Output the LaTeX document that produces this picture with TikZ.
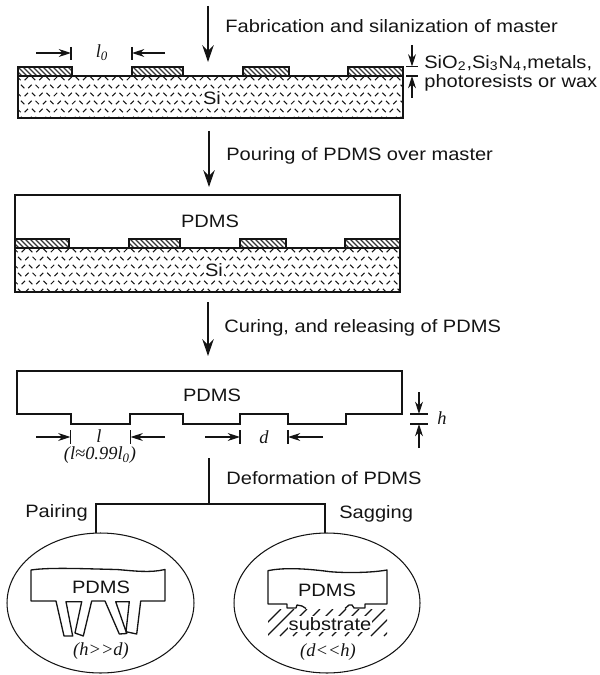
\documentclass[tikz,border=0pt]{standalone}
\usepackage{fontspec}
\usepackage{xcolor}
\usepackage{tikz}
\usetikzlibrary{arrows.meta,shapes.geometric}
\newfontfamily\sansfont[FakeStretch=1.12]{Liberation Sans}
\newfontfamily\dimfont{Liberation Serif}
\definecolor{ink}{HTML}{141414}

% master: silicon slab with four islands, origin at the slab's top left corner
\newcommand{\drawmaster}[3]{%
  \begin{scope}[shift={(#1,#2)}]
    \begin{scope}
      \clip (0,0) rectangle (385,#3);
      \foreach \row in {0,...,5} {
        \foreach \col in {0,...,53} {
          \pgfmathtruncatemacro{\flip}{mod(\col,2)}
          \pgfmathsetmacro{\xdash}{\col*7.3+mod(\row,2)*3.65+1}
          \pgfmathsetmacro{\ydash}{\row*8+2.5}
          \ifnum\flip=0
            \draw[dash line] (\xdash-1.7,\ydash-1.7) -- (\xdash+1.7,\ydash+1.7);
          \else
            \draw[dash line] (\xdash-1.7,\ydash+1.7) -- (\xdash+1.7,\ydash-1.7);
          \fi
        }
      }
    \end{scope}
    \begin{scope}
      \clip (0,-9) rectangle (54,0) (114,-9) rectangle (165,0)
            (225,-9) rectangle (271,0) (330,-9) rectangle (385,0);
      \foreach \xhatch in {-10,-5,...,385} {
        \draw[hatch line] (\xhatch,-9) -- (\xhatch+9,0);
      }
    \end{scope}
    \draw[outline] (0,0) rectangle (385,#3);
    \draw[outline] (0,0) -- (0,-9) -- (54,-9) -- (54,0);
    \draw[outline] (114,0) -- (114,-9) -- (165,-9) -- (165,0);
    \draw[outline] (225,0) -- (225,-9) -- (271,-9) -- (271,0);
    \draw[outline] (330,0) -- (330,-9) -- (385,-9) -- (385,0);
  \end{scope}
}

\begin{document}
\begin{tikzpicture}[
  x=0.02cm, y=-0.02cm,
  outline/.style={line width=0.85pt, color=ink, line join=miter},
  thinline/.style={line width=0.75pt, color=ink},
  dash line/.style={line width=0.6pt, color=ink},
  hatch line/.style={line width=0.75pt, color=ink!85},
  flow/.style={-{Stealth[length=9.5pt, width=6.5pt]}, line width=0.85pt, color=ink},
  dimarrow/.style={-{Stealth[length=7pt, width=4.5pt]}, line width=0.7pt, color=ink},
  tick/.style={line width=0.7pt, color=ink},
  caption/.style={font=\fontsize{10.2}{12}\selectfont\sansfont, text=ink, anchor=west, inner sep=0pt},
  material/.style={font=\fontsize{10.2}{12}\selectfont\sansfont, text=ink, inner sep=0.6pt},
  dimlabel/.style={font=\fontsize{10.5}{12}\selectfont\dimfont\itshape, text=ink, inner sep=0pt},
  bubble/.style={ellipse, draw=ink, line width=0.6pt, inner sep=0pt, minimum height=2.8cm}
]
\useasboundingbox (0,0) rectangle (599,675);

% step 1
\drawmaster{18}{76}{42}
\node[material, fill=white] (si1) at (212,98) {Si};
\coordinate (in1) at (208,6);
\coordinate (out1) at (208,62);
\draw[flow] (in1) -- (out1);
\node[caption] (fab) at (225,26) {Fabrication and silanization of master};
\node[dimlabel] (lo) at (102,53) {l\textsubscript{0}};
\coordinate (loA) at (36,53); \coordinate (loB) at (71,53);
\coordinate (loC) at (165,53); \coordinate (loD) at (132,53);
\draw[dimarrow] (loA) -- (loB);
\draw[dimarrow] (loC) -- (loD);
\draw[tick] (71,47) -- (71,60);
\draw[tick] (132,47) -- (132,60);
\coordinate (tA) at (412,45); \coordinate (tB) at (412,66.5);
\coordinate (tC) at (412,98); \coordinate (tD) at (412,76);
\draw[dimarrow] (tA) -- (tB);
\draw[dimarrow] (tC) -- (tD);
\draw[tick] (406,66.5) -- (418,66.5);
\draw[tick] (406,76) -- (418,76);
\node[caption] (oxide) at (424,63) {SiO\textsubscript{2},Si\textsubscript{3}N\textsubscript{4},metals,};
\node[caption] (resist) at (424,83) {photoresists or wax};

% step 2
\coordinate (in2) at (209,131);
\coordinate (out2) at (209,187);
\draw[flow] (in2) -- (out2);
\node[caption] (pour) at (226,156) {Pouring of PDMS over master};
\drawmaster{15}{248}{44}
\draw[outline] (15,239) -- (15,195) -- (400,195) -- (400,239);
\node[material] (pdms2) at (210,221) {PDMS};
\node[material, fill=white] (si2) at (214,270) {Si};

% step 3
\coordinate (in3) at (208,302);
\coordinate (out3) at (208,356);
\draw[flow] (in3) -- (out3);
\node[caption] (cure) at (224,328) {Curing, and releasing of PDMS};
\draw[outline] (17,371) -- (17,414) -- (71,414) -- (71,424) -- (130,424) -- (130,414)
  -- (183,414) -- (183,424) -- (240,424) -- (240,414) -- (288,414) -- (288,424)
  -- (346,424) -- (346,414) -- (402,414) -- (402,371) -- cycle;
\node[material] (pdms3) at (212,395) {PDMS};
\node[dimlabel] (l) at (99,436) {l};
\node[dimlabel] (lratio) at (100,455) {(l≈0.99l\textsubscript{0})};
\node[dimlabel] (d) at (264,437) {d};
\node[dimlabel] (h) at (442,418) {h};
\coordinate (lA) at (36,437); \coordinate (lB) at (70.5,437);
\coordinate (lC) at (165,437); \coordinate (lD) at (130.5,437);
\draw[dimarrow] (lA) -- (lB);
\draw[dimarrow] (lC) -- (lD);
\draw[tick] (70.5,430) -- (70.5,444);
\draw[tick] (130.5,430) -- (130.5,444);
\coordinate (dA) at (205,437); \coordinate (dB) at (240,437);
\coordinate (dC) at (323,437); \coordinate (dD) at (288,437);
\draw[dimarrow] (dA) -- (dB);
\draw[dimarrow] (dC) -- (dD);
\draw[tick] (240,430) -- (240,444);
\draw[tick] (288,430) -- (288,444);
\coordinate (hA) at (419,392); \coordinate (hB) at (419,414);
\coordinate (hC) at (419,448); \coordinate (hD) at (419,424);
\draw[dimarrow] (hA) -- (hB);
\draw[dimarrow] (hC) -- (hD);
\draw[tick] (410,414) -- (428,414);
\draw[tick] (410,424) -- (428,424);

% deformation branches
\node[caption] (deform) at (226,478) {Deformation of PDMS};
\node[caption] (pair) at (25,513) {Pairing};
\node[caption] (sag) at (339,514) {Sagging};
\node[bubble, minimum width=3.74cm] (pairing) at (100.5,603) {};
\node[bubble, minimum width=3.72cm] (sagging) at (327,603) {};
\coordinate (stem) at (209,458);
\coordinate (fork) at (209,504);
\coordinate (forkL) at (96,504);
\coordinate (forkR) at (325,504);
\coordinate (endL) at (96,533);
\coordinate (endR) at (325,533);
\draw[outline] (stem) -- (fork);
\draw[outline] (endL) -- (forkL) -- (forkR) -- (endR);

% pairing
\draw[thinline, line join=round] (31,570) .. controls (50,567) and (90,569) .. (117,569.5)
  .. controls (135,571) and (150,573) .. (165,569.5) -- (165,601) -- (140.7,601)
  -- (136.7,634) -- (126,631.7) -- (129.3,601.7) -- (115.7,601.7) -- (126.7,633.5)
  -- (119.3,634) -- (105,601) -- (91.7,601) -- (83.3,636) -- (75,633) -- (81.7,601.7)
  -- (66,601.7) -- (72.7,636) -- (64,636) -- (56,601) -- (31,601) -- cycle;
\node[material] (pdms4) at (101,587) {PDMS};
\node[dimlabel] (hd) at (101,651) {(h>>d)};

% sagging
\begin{scope}
  \clip (268,609) rectangle (387,636);
  \foreach \xhatch in {281,294,...,424} {
    \draw[thinline] (\xhatch,609) -- (\xhatch-27,636);
  }
\end{scope}
\draw[thinline, line join=round] (345,608.5) -- (349,605) -- (352,605) -- (354,608) -- (365,608)
  -- (365,604) -- (387,604) -- (387,570) .. controls (370,573) and (345,573) .. (330,571.7)
  .. controls (310,569) and (285,567) .. (268,570.7) -- (268,604) -- (287,604) -- (287,608)
  -- (296,608) -- (297,605) -- (302,606) -- (306,608.5);
\node[material] (pdms5) at (327,590) {PDMS};
\node[material, fill=white] (sub) at (330,624) {substrate};
\node[dimlabel] (dh) at (328,652) {(d<<h)};
\end{tikzpicture}
\end{document}
